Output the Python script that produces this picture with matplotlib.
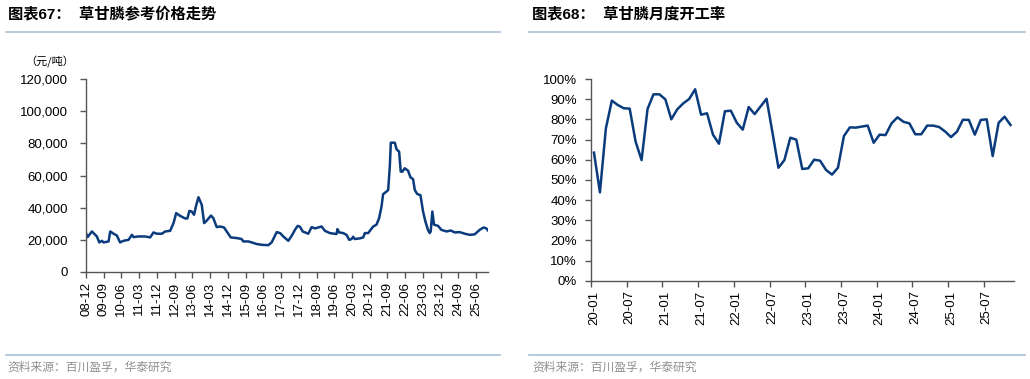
import numpy as np
import pandas as pd
import matplotlib.pyplot as plt
from matplotlib.lines import Line2D
from matplotlib.ticker import FuncFormatter, MultipleLocator

plt.rcParams['font.family'] = ['Liberation Sans', 'Noto Sans CJK SC', 'DejaVu Sans']

# glyphosate reference price (yuan/t)
price_dates = ['2008-12-01', '2008-12-26', '2009-03-02', '2009-05-18', '2009-06-24', '2009-08-04',
               '2009-08-30', '2009-11-15', '2009-12-10', '2010-02-01', '2010-03-22', '2010-05-12',
               '2010-07-03', '2010-09-19', '2010-11-10', '2010-12-05', '2011-02-21', '2011-06-02',
               '2011-08-19', '2011-10-09', '2011-11-30', '2012-02-16', '2012-04-07', '2012-06-23',
               '2012-08-14', '2012-09-24', '2012-11-25', '2013-02-10', '2013-03-16', '2013-04-16',
               '2013-05-22', '2013-06-27', '2013-07-28', '2013-09-03', '2013-10-24', '2013-11-30',
               '2014-01-10', '2014-03-16', '2014-04-21', '2014-06-12', '2014-08-02', '2014-10-03',
               '2014-11-14', '2015-01-15', '2015-04-16', '2015-07-02', '2015-07-28', '2015-10-14',
               '2015-12-04', '2016-02-20', '2016-05-06', '2016-08-18', '2016-10-08', '2016-12-25',
               '2017-02-15', '2017-04-06', '2017-06-22', '2017-08-13', '2017-10-03', '2017-11-14',
               '2017-12-20', '2018-01-31', '2018-04-27', '2018-06-17', '2018-08-08', '2018-09-28',
               '2018-11-18', '2019-01-09', '2019-03-26', '2019-07-07', '2019-07-22', '2019-08-17',
               '2019-10-18', '2019-12-08', '2020-01-19', '2020-02-24', '2020-03-20', '2020-04-15',
               '2020-07-01', '2020-08-22', '2020-09-17', '2020-11-08', '2020-12-14', '2021-01-24',
               '2021-03-15', '2021-04-25', '2021-06-01', '2021-06-26', '2021-08-17', '2021-09-12',
               '2021-10-07', '2021-10-23', '2021-12-24', '2022-01-19', '2022-02-28', '2022-03-25',
               '2022-04-20', '2022-05-25', '2022-07-16', '2022-08-22', '2022-10-02', '2022-10-28',
               '2022-12-03', '2023-01-24', '2023-03-05', '2023-04-10', '2023-05-20', '2023-06-15',
               '2023-07-01', '2023-07-26', '2023-08-21', '2023-10-22', '2023-12-13', '2024-03-01',
               '2024-05-05', '2024-07-06', '2024-09-22', '2024-12-08', '2025-02-24', '2025-05-10',
               '2025-07-26', '2025-09-26', '2025-11-06', '2025-12-02']
price = [24200, 21700, 25200, 22100, 18400, 19400, 18400, 19000, 25200, 23800, 22700, 18400,
         19400, 20000, 23100, 21700, 22100, 22100, 21500, 24600, 23800, 23800, 25200, 25600,
         30400, 36600, 34900, 33300, 33300, 38000, 37600, 35600, 41100, 46500, 41800, 30400,
         32000, 35100, 33500, 27900, 28300, 27700, 25200, 21500, 21100, 20500, 19000, 19000,
         18400, 17400, 16900, 16700, 18400, 24800, 24200, 22100, 19400, 22500, 26200, 28700,
         28100, 25200, 23800, 27900, 27100, 27700, 28300, 25600, 24200, 23600, 26700, 24600,
         24200, 23100, 20000, 20500, 21900, 20500, 20900, 21500, 24200, 24200, 26200, 28300,
         29400, 33500, 40700, 48400, 50000, 51000, 65500, 80400, 80400, 76300, 74800, 62400,
         62400, 64500, 63000, 58900, 57700, 51000, 48600, 47700, 37600, 31400, 26200, 24200,
         25200, 37600, 29400, 28700, 26200, 25200, 25800, 24600, 24800, 23800, 23100, 23400,
         26200, 27700, 27100, 25800]

# monthly operating rate, 2020-01 .. 2025-11
rate = [63.5, 43.8, 75.5, 89.3, 87.1, 85.5, 85.3, 68.9, 59.8, 85.1, 92.4, 92.4,
        89.9, 80.0, 85.0, 87.9, 90.1, 94.9, 82.3, 83.0, 72.4, 67.9, 84.0, 84.3,
        78.3, 74.9, 86.1, 82.6, 86.4, 90.2, 73.4, 56.0, 59.8, 70.9, 69.9, 55.4,
        55.7, 60.0, 59.5, 54.9, 52.6, 56.0, 71.7, 76.0, 75.9, 76.4, 76.9, 68.4,
        72.4, 72.2, 78.0, 81.0, 78.8, 78.0, 72.6, 72.6, 76.9, 76.9, 76.2, 74.0,
        71.2, 73.9, 79.8, 79.7, 72.4, 79.7, 80.0, 61.8, 78.3, 81.3, 77.2]
rate_labels = ['20-01', '20-07', '21-01', '21-07', '22-01', '22-07',
               '23-01', '23-07', '24-01', '24-07', '25-01', '25-07']

blue = '#0a3c7d'
axcol = '#555555'

fig = plt.figure(figsize=(10.3, 3.79), dpi=100)

# titles, rules and source notes
fig.text(8 / 1030, 1 - 14 / 379, '图表67：  草甘膦参考价格走势', fontsize=11, fontweight='bold',
         family=['Liberation Sans', 'Noto Sans CJK SC'], va='center', ha='left')
fig.text(532 / 1030, 1 - 14 / 379, '图表68：  草甘膦月度开工率', fontsize=11, fontweight='bold',
         family=['Liberation Sans', 'Noto Sans CJK SC'], va='center', ha='left')
for x0, x1 in [(6, 500), (529, 1025)]:
    for yy in [32, 355]:
        fig.add_artist(Line2D([x0 / 1030, x1 / 1030], [1 - yy / 379, 1 - yy / 379],
                              color='#a9bfd9', lw=1.2))
fig.text(7 / 1030, 1 - 367 / 379, '资料来源：百川盈孚，华泰研究', fontsize=8.5, color='#909090',
         family=['Noto Sans CJK SC'], va='center', ha='left')
fig.text(532 / 1030, 1 - 367 / 379, '资料来源：百川盈孚，华泰研究', fontsize=8.5, color='#909090',
         family=['Noto Sans CJK SC'], va='center', ha='left')


def style(ax):
    for s in ['top', 'right']:
        ax.spines[s].set_visible(False)
    for s in ['left', 'bottom']:
        ax.spines[s].set_color(axcol)
        ax.spines[s].set_linewidth(1.0)
    ax.tick_params(axis='both', which='both', color=axcol, length=4, width=1.0,
                   labelsize=9.5, pad=3)


# left chart: price
ax1 = fig.add_axes([86 / 1030, 1 - 272 / 379, 402 / 1030, 193 / 379])
d = pd.to_datetime(price_dates)
ax1.plot(d, price, color=blue, lw=1.8)
ax1.set_ylim(0, 120000)
ax1.yaxis.set_major_locator(MultipleLocator(20000))
ax1.yaxis.set_major_formatter(FuncFormatter(lambda v, p: f'{int(v):,}'))
ax1.set_xlim(d[0], d[-1])
ticks = pd.date_range('2008-12-01', '2025-06-01', freq='9MS')
ax1.set_xticks(ticks)
ax1.set_xticklabels([t.strftime('%y-%m') for t in ticks], rotation=90)
style(ax1)
ax1.tick_params(axis='y', pad=9)
fig.text(25 / 1030, 1 - 62 / 379, '（元/吨）', fontsize=8, family=['Noto Sans CJK SC'],
         va='center', ha='left')

# right chart: operating rate
ax2 = fig.add_axes([591 / 1030, 1 - 280.7 / 379, 422.5 / 1030, 201.7 / 379])
x = np.arange(len(rate))
ax2.plot(x, rate, color=blue, lw=1.8)
ax2.set_ylim(0, 100)
ax2.yaxis.set_major_locator(MultipleLocator(10))
ax2.yaxis.set_major_formatter(FuncFormatter(lambda v, p: f'{int(v)}%'))
ax2.set_xlim(-0.5, len(rate) - 0.5)
ax2.set_xticks(np.arange(0, len(rate), 6))
ax2.set_xticklabels(rate_labels, rotation=90)
ax2.set_xticks(np.arange(-0.5, len(rate), 6), minor=True)
style(ax2)
ax2.tick_params(axis='x', which='major', length=0, pad=7)
ax2.tick_params(axis='y', pad=6)

fig.savefig('out.png', dpi=100)
